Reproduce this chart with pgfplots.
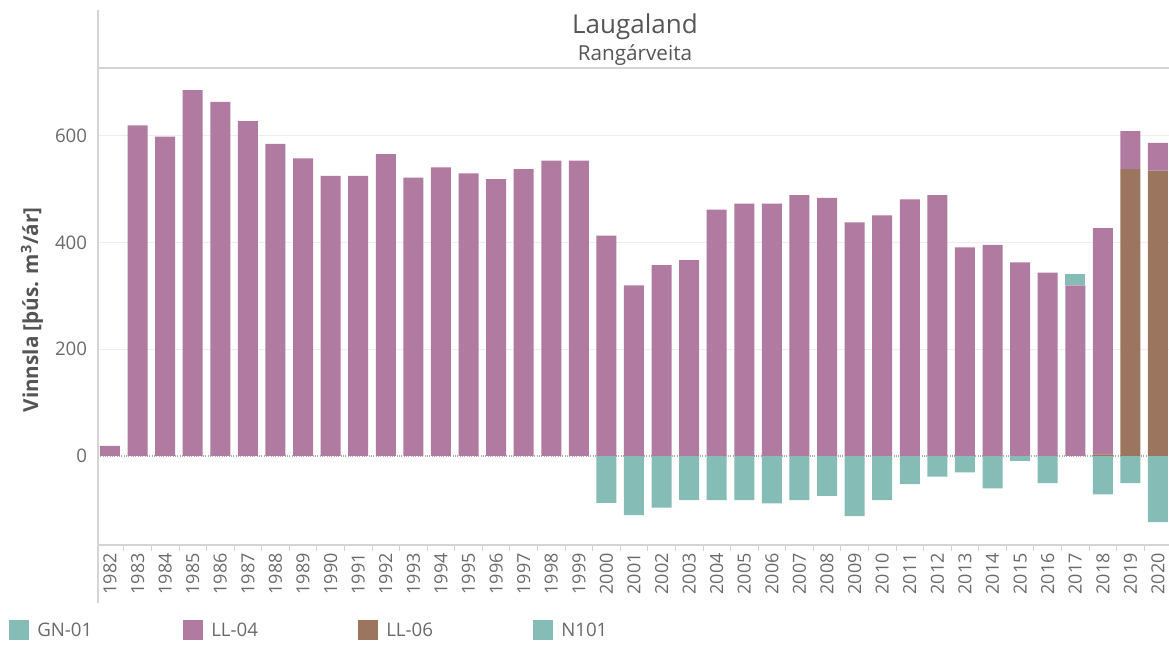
\documentclass[border=0pt]{standalone}
\usepackage{fontspec}
\setmainfont{Open Sans}
\usepackage{pgfplots}
\pgfplotsset{compat=1.18}
\definecolor{cPurple}{HTML}{B07AA1}
\definecolor{cBrown}{HTML}{9C755F}
\definecolor{cTeal}{HTML}{86BCB6}
\definecolor{cText}{HTML}{6A6A6A}
\definecolor{cTitle}{HTML}{555555}
\definecolor{cLine}{HTML}{D4D4D4}
\definecolor{cGrid}{HTML}{EEEEEE}
\pgfplotsset{base/.style={
  at={(0pt,0pt)}, anchor=south west,
  scale only axis, width=803.25pt, height=357.75pt,
  xmin=-0.435, xmax=38.4, ymin=-167, ymax=727.5,
  axis line style={draw=none},
  major tick length=0pt,
  /pgf/number format/assume math mode=true,
}}
\begin{document}
\begin{tikzpicture}
\useasboundingbox (-73.5pt,-74.25pt) rectangle (803.25pt,408.75pt);
\begin{axis}[base, ybar, bar width=15pt,
  ytick={200,400,600},
  ymajorgrids, grid style={cGrid, line width=0.75pt},
  extra y ticks={0},
  extra y tick style={grid style={cText!55, densely dotted, line width=0.9pt}},
  yticklabel style={font=\fontsize{14pt}{16pt}\selectfont, color=cText, inner sep=0pt, xshift=-8pt},
  xtick={0,...,38},
  xticklabel={\pgfmathtruncatemacro\yr{1982+\tick}\yr},
  xticklabel style={rotate=90, anchor=east, font=\fontsize{13.5pt}{15pt}\selectfont, color=cText, inner sep=0pt},
  xticklabel shift=6pt,
  minor xtick={-0.5,0.5,...,38.5},
  minor tick length=4.5pt, tick align=outside, xtick pos=bottom, ytick pos=left,
  minor tick style={draw=cLine, line width=0.6pt},
]
\addplot[fill=cTeal, draw=none] coordinates {
(18,-88) (19,-111) (20,-97) (21,-83) (22,-83) (23,-83) (24,-89) (25,-83)
(26,-75) (27,-113) (28,-83) (29,-53) (30,-39) (31,-31) (32,-61) (33,-9)
(34,-51) (36,-72) (37,-51) (38,-124)};
\end{axis}
\begin{axis}[base, hide axis, ybar stacked, bar width=15pt]
% LL-06
\addplot[fill=cBrown, draw=none] coordinates {
(0,0) (1,0) (2,0) (3,0) (4,0) (5,0) (6,0) (7,0) (8,0) (9,0)
(10,0) (11,0) (12,0) (13,0) (14,0) (15,0) (16,0) (17,0) (18,0) (19,0)
(20,0) (21,0) (22,0) (23,0) (24,0) (25,0) (26,0) (27,0) (28,0) (29,0)
(30,0) (31,0) (32,0) (33,0) (34,0) (35,0) (36,3) (37,538) (38,535)};
% LL-04
\addplot[fill=cPurple, draw=none] coordinates {
(0,19) (1,620) (2,599) (3,686) (4,664) (5,628) (6,585) (7,558) (8,525) (9,525)
(10,566) (11,522) (12,541) (13,530) (14,519) (15,538) (16,554) (17,554) (18,413) (19,320)
(20,358) (21,367) (22,462) (23,473) (24,473) (25,489) (26,484) (27,438) (28,451) (29,481)
(30,489) (31,391) (32,396) (33,363) (34,344) (35,320) (36,424) (37,71) (38,52)};
% GN-01
\addplot[fill=cTeal, draw=none] coordinates {
(0,0) (1,0) (2,0) (3,0) (4,0) (5,0) (6,0) (7,0) (8,0) (9,0)
(10,0) (11,0) (12,0) (13,0) (14,0) (15,0) (16,0) (17,0) (18,0) (19,0)
(20,0) (21,0) (22,0) (23,0) (24,0) (25,0) (26,0) (27,0) (28,0) (29,0)
(30,0) (31,0) (32,0) (33,0) (34,0) (35,21) (36,0) (37,0) (38,0)};
\end{axis}
% frame lines
\draw[cLine, line width=1.2pt] (0pt,357.75pt) -- (803.25pt,357.75pt);
\draw[cLine, line width=1.5pt] (0pt,0pt) -- (803.25pt,0pt);
\draw[cLine, line width=1.2pt] (0pt,401.25pt) -- (0pt,-43.5pt);
% titles
\node[font=\fontsize{19.5pt}{22pt}\selectfont, text=cTitle] at (402.75pt,388.5pt) {Laugaland};
\node[font=\fontsize{15.5pt}{18pt}\selectfont, text=cTitle] at (402.75pt,367.5pt) {Rangárveita};
\node[font=\bfseries\fontsize{15.5pt}{18pt}\selectfont, text=cTitle, rotate=90] at (-49.5pt,176.25pt) {Vinnsla [þús. m\textsuperscript{3}/ár]};
% legend
\fill[cTeal] (-66.75pt,-56.25pt) rectangle (-51.75pt,-71.25pt);
\node[anchor=west, inner sep=0pt, font=\fontsize{14pt}{16pt}\selectfont, text=cText] at (-45.75pt,-63.75pt) {GN-01};
\fill[cPurple] (63.75pt,-56.25pt) rectangle (78.75pt,-71.25pt);
\node[anchor=west, inner sep=0pt, font=\fontsize{14pt}{16pt}\selectfont, text=cText] at (84.75pt,-63.75pt) {LL-04};
\fill[cBrown] (195pt,-56.25pt) rectangle (210pt,-71.25pt);
\node[anchor=west, inner sep=0pt, font=\fontsize{14pt}{16pt}\selectfont, text=cText] at (216pt,-63.75pt) {LL-06};
\fill[cTeal] (326.25pt,-56.25pt) rectangle (341.25pt,-71.25pt);
\node[anchor=west, inner sep=0pt, font=\fontsize{14pt}{16pt}\selectfont, text=cText] at (347.25pt,-63.75pt) {N101};
\end{tikzpicture}
\end{document}
